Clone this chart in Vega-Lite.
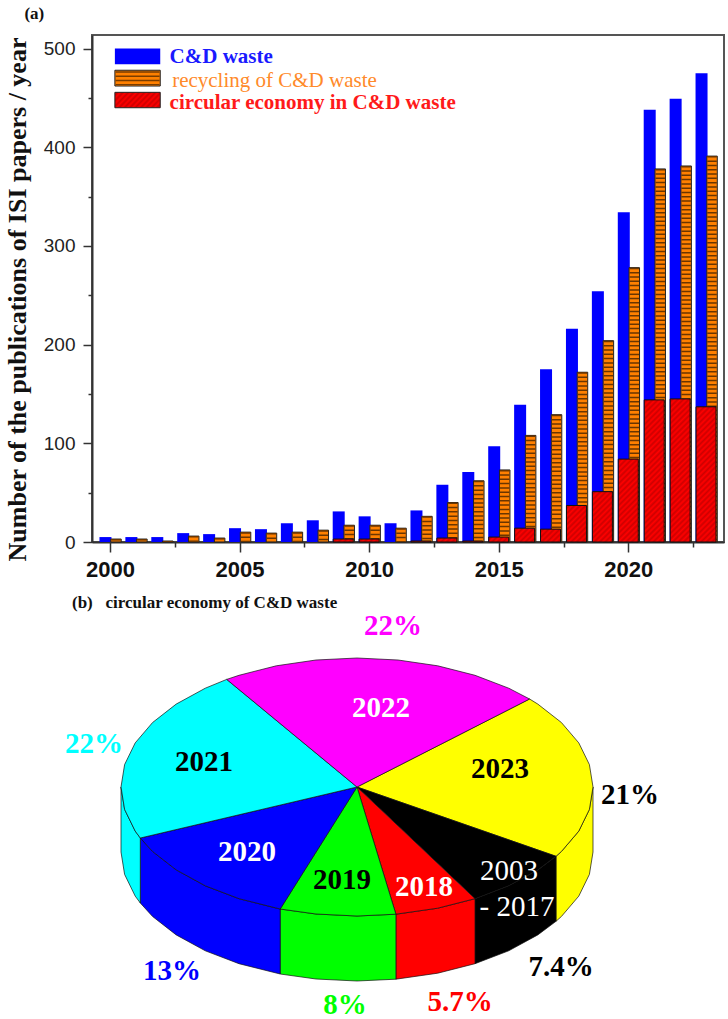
{"$schema":"https://vega.github.io/schema/vega-lite/v6.json","background":"white","padding":{"left":2,"top":4,"right":0,"bottom":0},"bounds":"flush","spacing":57,
"params":[{"name":"hatch","value":[{"offset":0,"color":"#ff0000"},{"offset":0.0167,"color":"#cc0000"},{"offset":0.0333,"color":"#ff0000"},{"offset":0.05,"color":"#cc0000"},{"offset":0.0667,"color":"#ff0000"},{"offset":0.0833,"color":"#cc0000"},{"offset":0.1,"color":"#ff0000"},{"offset":0.1167,"color":"#cc0000"},{"offset":0.1333,"color":"#ff0000"},{"offset":0.15,"color":"#cc0000"},{"offset":0.1667,"color":"#ff0000"},{"offset":0.1833,"color":"#cc0000"},{"offset":0.2,"color":"#ff0000"},{"offset":0.2167,"color":"#cc0000"},{"offset":0.2333,"color":"#ff0000"},{"offset":0.25,"color":"#cc0000"},{"offset":0.2667,"color":"#ff0000"},{"offset":0.2833,"color":"#cc0000"},{"offset":0.3,"color":"#ff0000"},{"offset":0.3167,"color":"#cc0000"},{"offset":0.3333,"color":"#ff0000"},{"offset":0.35,"color":"#cc0000"},{"offset":0.3667,"color":"#ff0000"},{"offset":0.3833,"color":"#cc0000"},{"offset":0.4,"color":"#ff0000"},{"offset":0.4167,"color":"#cc0000"},{"offset":0.4333,"color":"#ff0000"},{"offset":0.45,"color":"#cc0000"},{"offset":0.4667,"color":"#ff0000"},{"offset":0.4833,"color":"#cc0000"},{"offset":0.5,"color":"#ff0000"},{"offset":0.5167,"color":"#cc0000"},{"offset":0.5333,"color":"#ff0000"},{"offset":0.55,"color":"#cc0000"},{"offset":0.5667,"color":"#ff0000"},{"offset":0.5833,"color":"#cc0000"},{"offset":0.6,"color":"#ff0000"},{"offset":0.6167,"color":"#cc0000"},{"offset":0.6333,"color":"#ff0000"},{"offset":0.65,"color":"#cc0000"},{"offset":0.6667,"color":"#ff0000"},{"offset":0.6833,"color":"#cc0000"},{"offset":0.7,"color":"#ff0000"},{"offset":0.7167,"color":"#cc0000"},{"offset":0.7333,"color":"#ff0000"},{"offset":0.75,"color":"#cc0000"},{"offset":0.7667,"color":"#ff0000"},{"offset":0.7833,"color":"#cc0000"},{"offset":0.8,"color":"#ff0000"},{"offset":0.8167,"color":"#cc0000"},{"offset":0.8333,"color":"#ff0000"},{"offset":0.85,"color":"#cc0000"},{"offset":0.8667,"color":"#ff0000"},{"offset":0.8833,"color":"#cc0000"},{"offset":0.9,"color":"#ff0000"},{"offset":0.9167,"color":"#cc0000"},{"offset":0.9333,"color":"#ff0000"},{"offset":0.95,"color":"#cc0000"},{"offset":0.9667,"color":"#ff0000"},{"offset":0.9833,"color":"#cc0000"},{"offset":1,"color":"#ff0000"}]}],
"datasets":{
"one":[{"k":1}],
"bars":[
{"year":2000,"series":"C&D waste","value":5},{"year":2001,"series":"C&D waste","value":5},{"year":2002,"series":"C&D waste","value":5},{"year":2003,"series":"C&D waste","value":9},{"year":2004,"series":"C&D waste","value":8},{"year":2005,"series":"C&D waste","value":14},{"year":2006,"series":"C&D waste","value":13},{"year":2007,"series":"C&D waste","value":19},{"year":2008,"series":"C&D waste","value":22},{"year":2009,"series":"C&D waste","value":31},{"year":2010,"series":"C&D waste","value":26},{"year":2011,"series":"C&D waste","value":19},{"year":2012,"series":"C&D waste","value":32},{"year":2013,"series":"C&D waste","value":58},{"year":2014,"series":"C&D waste","value":71},{"year":2015,"series":"C&D waste","value":97},{"year":2016,"series":"C&D waste","value":139},{"year":2017,"series":"C&D waste","value":175},{"year":2018,"series":"C&D waste","value":216},{"year":2019,"series":"C&D waste","value":254},{"year":2020,"series":"C&D waste","value":334},{"year":2021,"series":"C&D waste","value":438},{"year":2022,"series":"C&D waste","value":449},{"year":2023,"series":"C&D waste","value":475},
{"year":2000,"series":"recycling","value":3},{"year":2001,"series":"recycling","value":3},{"year":2002,"series":"recycling","value":1},{"year":2003,"series":"recycling","value":6},{"year":2004,"series":"recycling","value":4},{"year":2005,"series":"recycling","value":10},{"year":2006,"series":"recycling","value":9},{"year":2007,"series":"recycling","value":10},{"year":2008,"series":"recycling","value":12},{"year":2009,"series":"recycling","value":17},{"year":2010,"series":"recycling","value":17},{"year":2011,"series":"recycling","value":14},{"year":2012,"series":"recycling","value":26},{"year":2013,"series":"recycling","value":40},{"year":2014,"series":"recycling","value":62},{"year":2015,"series":"recycling","value":73},{"year":2016,"series":"recycling","value":108},{"year":2017,"series":"recycling","value":129},{"year":2018,"series":"recycling","value":172},{"year":2019,"series":"recycling","value":204},{"year":2020,"series":"recycling","value":278},{"year":2021,"series":"recycling","value":378},{"year":2022,"series":"recycling","value":381},{"year":2023,"series":"recycling","value":391},
{"year":2009,"series":"circular","value":3},{"year":2010,"series":"circular","value":3},{"year":2012,"series":"circular","value":1},{"year":2013,"series":"circular","value":4},{"year":2014,"series":"circular","value":1},{"year":2015,"series":"circular","value":5},{"year":2016,"series":"circular","value":14},{"year":2017,"series":"circular","value":13},{"year":2018,"series":"circular","value":37},{"year":2019,"series":"circular","value":51},{"year":2020,"series":"circular","value":84},{"year":2021,"series":"circular","value":144},{"year":2022,"series":"circular","value":145},{"year":2023,"series":"circular","value":137}],
"pie":[
{"part":"w2023","year":"2023","o":1,"dx":236,"dy":0},{"part":"w2023","year":"2023","o":2,"dx":232.4,"dy":-22.4},{"part":"w2023","year":"2023","o":3,"dx":221.8,"dy":-44.1},{"part":"w2023","year":"2023","o":4,"dx":204.4,"dy":-64.5},{"part":"w2023","year":"2023","o":5,"dx":199,"dy":-69.3},{"part":"w2023","year":"2023","o":6,"dx":199,"dy":-134.3},{"part":"w2023","year":"2023","o":7,"dx":204.4,"dy":-129.5},{"part":"w2023","year":"2023","o":8,"dx":221.8,"dy":-109.1},{"part":"w2023","year":"2023","o":9,"dx":232.4,"dy":-87.4},{"part":"w2023","year":"2023","o":10,"dx":236,"dy":-65},{"part":"w2023","year":"2023","o":11,"dx":236,"dy":0},
{"part":"w2003","year":"2003-2017","o":1,"dx":199,"dy":-69.3},{"part":"w2003","year":"2003-2017","o":2,"dx":180.8,"dy":-82.9},{"part":"w2003","year":"2003-2017","o":3,"dx":151.7,"dy":-98.8},{"part":"w2003","year":"2003-2017","o":4,"dx":118,"dy":-111.7},{"part":"w2003","year":"2003-2017","o":5,"dx":118,"dy":-176.7},{"part":"w2003","year":"2003-2017","o":6,"dx":151.7,"dy":-163.8},{"part":"w2003","year":"2003-2017","o":7,"dx":180.8,"dy":-147.9},{"part":"w2003","year":"2003-2017","o":8,"dx":199,"dy":-134.3},{"part":"w2003","year":"2003-2017","o":9,"dx":199,"dy":-69.3},
{"part":"w2018","year":"2018","o":1,"dx":118,"dy":-111.7},{"part":"w2018","year":"2018","o":2,"dx":80.7,"dy":-121.2},{"part":"w2018","year":"2018","o":3,"dx":38.9,"dy":-127.2},{"part":"w2018","year":"2018","o":4,"dx":38.9,"dy":-192.2},{"part":"w2018","year":"2018","o":5,"dx":80.7,"dy":-186.2},{"part":"w2018","year":"2018","o":6,"dx":118,"dy":-176.7},{"part":"w2018","year":"2018","o":7,"dx":118,"dy":-111.7},
{"part":"w2019","year":"2019","o":1,"dx":38.9,"dy":-127.2},{"part":"w2019","year":"2019","o":2,"dx":0,"dy":-129},{"part":"w2019","year":"2019","o":3,"dx":-41,"dy":-127},{"part":"w2019","year":"2019","o":4,"dx":-76.8,"dy":-122},{"part":"w2019","year":"2019","o":5,"dx":-76.8,"dy":-187},{"part":"w2019","year":"2019","o":6,"dx":-41,"dy":-192},{"part":"w2019","year":"2019","o":7,"dx":0,"dy":-194},{"part":"w2019","year":"2019","o":8,"dx":38.9,"dy":-192.2},{"part":"w2019","year":"2019","o":9,"dx":38.9,"dy":-127.2},
{"part":"w2020","year":"2020","o":1,"dx":-76.8,"dy":-122},{"part":"w2020","year":"2020","o":2,"dx":-118,"dy":-111.7},{"part":"w2020","year":"2020","o":3,"dx":-151.7,"dy":-98.8},{"part":"w2020","year":"2020","o":4,"dx":-180.8,"dy":-82.9},{"part":"w2020","year":"2020","o":5,"dx":-204.4,"dy":-64.5},{"part":"w2020","year":"2020","o":6,"dx":-216.7,"dy":-51},{"part":"w2020","year":"2020","o":7,"dx":-216.7,"dy":-116},{"part":"w2020","year":"2020","o":8,"dx":-204.4,"dy":-129.5},{"part":"w2020","year":"2020","o":9,"dx":-180.8,"dy":-147.9},{"part":"w2020","year":"2020","o":10,"dx":-151.7,"dy":-163.8},{"part":"w2020","year":"2020","o":11,"dx":-118,"dy":-176.7},{"part":"w2020","year":"2020","o":12,"dx":-76.8,"dy":-187},{"part":"w2020","year":"2020","o":13,"dx":-76.8,"dy":-122},
{"part":"w2021","year":"2021","o":1,"dx":-216.7,"dy":-51},{"part":"w2021","year":"2021","o":2,"dx":-221.8,"dy":-44.1},{"part":"w2021","year":"2021","o":3,"dx":-232.4,"dy":-22.4},{"part":"w2021","year":"2021","o":4,"dx":-236,"dy":0},{"part":"w2021","year":"2021","o":5,"dx":-236,"dy":-65},{"part":"w2021","year":"2021","o":6,"dx":-232.4,"dy":-87.4},{"part":"w2021","year":"2021","o":7,"dx":-221.8,"dy":-109.1},{"part":"w2021","year":"2021","o":8,"dx":-216.7,"dy":-116},{"part":"w2021","year":"2021","o":9,"dx":-216.7,"dy":-51},
{"part":"t2023","year":"2023","o":1,"dx":0,"dy":0},{"part":"t2023","year":"2023","o":2,"dx":172.6,"dy":88},{"part":"t2023","year":"2023","o":3,"dx":180.8,"dy":82.9},{"part":"t2023","year":"2023","o":4,"dx":204.4,"dy":64.5},{"part":"t2023","year":"2023","o":5,"dx":221.8,"dy":44.1},{"part":"t2023","year":"2023","o":6,"dx":232.4,"dy":22.4},{"part":"t2023","year":"2023","o":7,"dx":236,"dy":0},{"part":"t2023","year":"2023","o":8,"dx":232.4,"dy":-22.4},{"part":"t2023","year":"2023","o":9,"dx":221.8,"dy":-44.1},{"part":"t2023","year":"2023","o":10,"dx":204.4,"dy":-64.5},{"part":"t2023","year":"2023","o":11,"dx":199,"dy":-69.3},{"part":"t2023","year":"2023","o":12,"dx":0,"dy":0},
{"part":"t2003","year":"2003-2017","o":1,"dx":0,"dy":0},{"part":"t2003","year":"2003-2017","o":2,"dx":199,"dy":-69.3},{"part":"t2003","year":"2003-2017","o":3,"dx":180.8,"dy":-82.9},{"part":"t2003","year":"2003-2017","o":4,"dx":151.7,"dy":-98.8},{"part":"t2003","year":"2003-2017","o":5,"dx":118,"dy":-111.7},{"part":"t2003","year":"2003-2017","o":6,"dx":0,"dy":0},
{"part":"t2018","year":"2018","o":1,"dx":0,"dy":0},{"part":"t2018","year":"2018","o":2,"dx":118,"dy":-111.7},{"part":"t2018","year":"2018","o":3,"dx":80.7,"dy":-121.2},{"part":"t2018","year":"2018","o":4,"dx":38.9,"dy":-127.2},{"part":"t2018","year":"2018","o":5,"dx":0,"dy":0},
{"part":"t2019","year":"2019","o":1,"dx":0,"dy":0},{"part":"t2019","year":"2019","o":2,"dx":38.9,"dy":-127.2},{"part":"t2019","year":"2019","o":3,"dx":0,"dy":-129},{"part":"t2019","year":"2019","o":4,"dx":-41,"dy":-127},{"part":"t2019","year":"2019","o":5,"dx":-76.8,"dy":-122},{"part":"t2019","year":"2019","o":6,"dx":0,"dy":0},
{"part":"t2020","year":"2020","o":1,"dx":0,"dy":0},{"part":"t2020","year":"2020","o":2,"dx":-76.8,"dy":-122},{"part":"t2020","year":"2020","o":3,"dx":-118,"dy":-111.7},{"part":"t2020","year":"2020","o":4,"dx":-151.7,"dy":-98.8},{"part":"t2020","year":"2020","o":5,"dx":-180.8,"dy":-82.9},{"part":"t2020","year":"2020","o":6,"dx":-204.4,"dy":-64.5},{"part":"t2020","year":"2020","o":7,"dx":-216.7,"dy":-51},{"part":"t2020","year":"2020","o":8,"dx":0,"dy":0},
{"part":"t2021","year":"2021","o":1,"dx":0,"dy":0},{"part":"t2021","year":"2021","o":2,"dx":-216.7,"dy":-51},{"part":"t2021","year":"2021","o":3,"dx":-221.8,"dy":-44.1},{"part":"t2021","year":"2021","o":4,"dx":-232.4,"dy":-22.4},{"part":"t2021","year":"2021","o":5,"dx":-236,"dy":0},{"part":"t2021","year":"2021","o":6,"dx":-232.4,"dy":22.4},{"part":"t2021","year":"2021","o":7,"dx":-221.8,"dy":44.1},{"part":"t2021","year":"2021","o":8,"dx":-204.4,"dy":64.5},{"part":"t2021","year":"2021","o":9,"dx":-180.8,"dy":82.9},{"part":"t2021","year":"2021","o":10,"dx":-151.7,"dy":98.8},{"part":"t2021","year":"2021","o":11,"dx":-130.3,"dy":107.6},{"part":"t2021","year":"2021","o":12,"dx":0,"dy":0},
{"part":"t2022","year":"2022","o":1,"dx":0,"dy":0},{"part":"t2022","year":"2022","o":2,"dx":-130.3,"dy":107.6},{"part":"t2022","year":"2022","o":3,"dx":-118,"dy":111.7},{"part":"t2022","year":"2022","o":4,"dx":-80.7,"dy":121.2},{"part":"t2022","year":"2022","o":5,"dx":-41,"dy":127},{"part":"t2022","year":"2022","o":6,"dx":0,"dy":129},{"part":"t2022","year":"2022","o":7,"dx":41,"dy":127},{"part":"t2022","year":"2022","o":8,"dx":80.7,"dy":121.2},{"part":"t2022","year":"2022","o":9,"dx":118,"dy":111.7},{"part":"t2022","year":"2022","o":10,"dx":151.7,"dy":98.8},{"part":"t2022","year":"2022","o":11,"dx":172.6,"dy":88},{"part":"t2022","year":"2022","o":12,"dx":0,"dy":0}],
"pct":[{"year":"2022","label":"22%","dx":36,"dy":161},{"year":"2021","label":"22%","dx":-263,"dy":43},{"year":"2023","label":"21%","dx":273,"dy":-8},{"year":"2003-2017","label":"7.4%","dx":204,"dy":-180},{"year":"2018","label":"5.7%","dx":103,"dy":-215},{"year":"2019","label":"8%","dx":-12,"dy":-218},{"year":"2020","label":"13%","dx":-185,"dy":-184}],
"names":[{"label":"2022","dx":24,"dy":79},{"label":"2021","dx":-153,"dy":25},{"label":"2023","dx":143,"dy":18},{"label":"2020","dx":-110,"dy":-65},{"label":"2019","dx":-15,"dy":-93},{"label":"2018","dx":67,"dy":-100}],
"span":[{"label":"2003","dx":152,"dy":-84},{"label":"- 2017","dx":160,"dy":-120}]
},
"vconcat":[
{"width":632,"height":507,"view":{"stroke":"#555","strokeWidth":2},
"layer":[
{"encoding":{
"x":{"field":"year","type":"quantitative","scale":{"domain":[1999.5,2023.5],"nice":false,"zero":false},"title":null,"axis":{"values":[2000,2002.5,2005,2007.5,2010,2012.5,2015,2017.5,2020,2022.5],"grid":false,"labelExpr":"datum.value%5===0?datum.value:''","labelOverlap":false,"labelFont":"Liberation Sans","labelFontWeight":"bold","labelFontSize":22,"labelColor":"#111","labelPadding":7,"tickColor":"#333","tickWidth":1.5,"tickSize":{"condition":{"test":"datum.value%5===0","value":10},"value":5},"domainColor":"#333","domainWidth":2}},
"y":{"field":"value","type":"quantitative","scale":{"domain":[0,513.7],"nice":false},"title":"Number of the publications of ISI papers / year","axis":{"values":[0,50,100,150,200,250,300,350,400,450,500],"grid":false,"labelExpr":"datum.value%100===0?datum.value:''","labelOverlap":false,"labelFont":"Liberation Sans","labelFontSize":19,"labelColor":"#222","labelPadding":8,"tickColor":"#333","tickWidth":1.5,"tickSize":{"condition":{"test":"datum.value%100===0","value":9},"value":4},"domainColor":"#333","domainWidth":2,"titleFont":"Liberation Serif","titleFontWeight":"bold","titleFontSize":26,"titleColor":"#111","titleX":-62,"titleY":264}}
},
"layer":[
{"data":{"name":"bars"},"transform":[{"filter":"datum.series==='C&D waste'"}],"mark":{"type":"bar","size":12,"xOffset":-4.5,"color":"#0000ff"}},
{"data":{"name":"bars"},"transform":[{"filter":"datum.series==='recycling'"}],"mark":{"type":"bar","size":10.5,"xOffset":6,"color":"#ff8000","stroke":"#222","strokeWidth":1}},
{"data":{"name":"bars"},"transform":[{"filter":"datum.series==='recycling'"}],"mark":{"type":"rule","xOffset":6,"color":"#6a3500","strokeWidth":9.5,"strokeDash":[1.5,2.8]},"encoding":{"y2":{"datum":0}}},
{"data":{"name":"bars"},"transform":[{"filter":"datum.series==='circular'"}],"mark":{"type":"bar","size":20,"stroke":"#111","strokeWidth":1,"fill":{"expr":"{gradient:'linear',x1:0,y1:0,x2:165*20/(400+pow(0.987*datum.value,2)),y2:165*0.987*datum.value/(400+pow(0.987*datum.value,2)),stops:hatch}"}}}
]},
{"data":{"name":"one"},"mark":{"type":"rect","color":"#0000ff"},"encoding":{"x":{"datum":2000.19,"type":"quantitative"},"x2":{"datum":2001.94},"y":{"datum":500,"type":"quantitative"},"y2":{"datum":484}}},
{"data":{"name":"one"},"mark":{"type":"rect","color":"#ff8000","stroke":"#222","strokeWidth":1},"encoding":{"x":{"datum":2000.19,"type":"quantitative"},"x2":{"datum":2001.94},"y":{"datum":478,"type":"quantitative"},"y2":{"datum":462}}},
{"data":{"name":"one"},"mark":{"type":"rule","color":"#7a3d00","strokeWidth":44,"strokeDash":[1.5,2.8]},"encoding":{"x":{"datum":2001.065,"type":"quantitative"},"y":{"datum":477,"type":"quantitative"},"y2":{"datum":463}}},
{"data":{"name":"one"},"mark":{"type":"rect","stroke":"#222","strokeWidth":1,"fill":{"expr":"{gradient:'linear',x1:0,y1:0,x2:165*46/(2116+225),y2:165*15/(2116+225),stops:hatch}"}},"encoding":{"x":{"datum":2000.19,"type":"quantitative"},"x2":{"datum":2001.94},"y":{"datum":455.6,"type":"quantitative"},"y2":{"datum":440}}},
{"data":{"name":"one"},"mark":{"type":"text","text":"C&D waste","align":"left","baseline":"middle","font":"Liberation Serif","fontWeight":"bold","fontSize":21,"color":"#1a1aff"},"encoding":{"x":{"datum":2002.3,"type":"quantitative"},"y":{"datum":491,"type":"quantitative"}}},
{"data":{"name":"one"},"mark":{"type":"text","text":"recycling of C&D waste","align":"left","baseline":"middle","font":"Liberation Serif","fontSize":21,"color":"#ff8a2a"},"encoding":{"x":{"datum":2002.4,"type":"quantitative"},"y":{"datum":467,"type":"quantitative"}}},
{"data":{"name":"one"},"mark":{"type":"text","text":"circular economy in C&D waste","align":"left","baseline":"middle","font":"Liberation Serif","fontWeight":"bold","fontSize":21,"color":"#ff1a1a"},"encoding":{"x":{"datum":2002.3,"type":"quantitative"},"y":{"datum":444.6,"type":"quantitative"}}},
{"data":{"name":"one"},"mark":{"type":"text","text":"(a)","align":"left","baseline":"middle","font":"Liberation Serif","fontWeight":"bold","fontSize":17,"color":"#111"},"encoding":{"x":{"datum":1996.7,"type":"quantitative"},"y":{"datum":534.6,"type":"quantitative"}}}
]},
{"width":632,"height":420,"view":{"stroke":null},
"layer":[
{"encoding":{
"x":{"field":"dx","type":"quantitative","scale":{"domain":[-265,367],"nice":false,"zero":false},"axis":null},
"y":{"field":"dy","type":"quantitative","scale":{"domain":[-232,188],"nice":false,"zero":false},"axis":null}
},
"layer":[
{"data":{"name":"pie"},"mark":{"type":"line","filled":true,"stroke":"#111","strokeWidth":0.7},"encoding":{"detail":{"field":"part"},"order":{"field":"o","type":"quantitative"},"fill":{"field":"year","type":"nominal","legend":null,"scale":{"domain":["2023","2003-2017","2018","2019","2020","2021","2022"],"range":["#ffff00","#000000","#ff0000","#00ff00","#0000ff","#00ffff","#ff00ff"]}}}},
{"data":{"name":"pct"},"mark":{"type":"text","font":"Liberation Serif","fontWeight":"bold","fontSize":29},"encoding":{"text":{"field":"label"},"color":{"field":"year","type":"nominal","legend":null,"scale":{"domain":["2023","2003-2017","2018","2019","2020","2021","2022"],"range":["#000000","#000000","#ff0000","#00ff00","#0000ff","#00ffff","#ff00ff"]}}}},
{"data":{"name":"names"},"mark":{"type":"text","font":"Liberation Serif","fontWeight":"bold","fontSize":29},"encoding":{"text":{"field":"label"},"color":{"condition":{"test":"indexof(['2022','2020','2018'],datum.label)>=0","value":"white"},"value":"black"}}},
{"data":{"name":"span"},"mark":{"type":"text","font":"Liberation Serif","fontSize":29,"color":"white"},"encoding":{"text":{"field":"label"}}}
]},
{"data":{"name":"one"},"mark":{"type":"text","text":"(b)\u00a0\u00a0\u00a0circular economy of C&D waste","align":"left","baseline":"middle","font":"Liberation Serif","fontWeight":"bold","fontSize":17,"color":"#111"},"encoding":{"x":{"datum":-285,"type":"quantitative"},"y":{"datum":184,"type":"quantitative"}}}
]}
]}
